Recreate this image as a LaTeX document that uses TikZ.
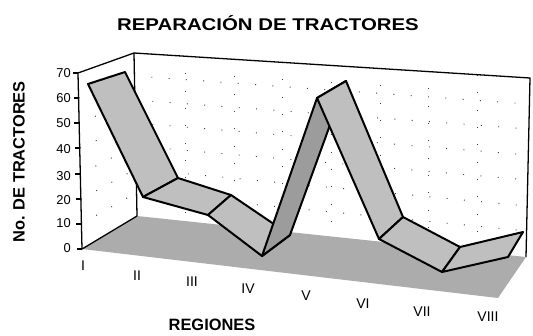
\documentclass[tikz,border=0pt]{standalone}
\usepackage{fontspec}
\setmainfont{Liberation Sans}
\newfontfamily\widesans{Liberation Sans}[FakeStretch=1.2]

\begin{document}
\begin{tikzpicture}[x=0.03cm,y=-0.03cm,
    band/.style={draw=black,line width=1.7pt,line join=round,fill=gray!50},
    underband/.style={draw=black,line width=1.7pt,line join=round,fill=gray!78},
    wall/.style={draw=black,line width=1.1pt},
    gridline/.style={black!75,line width=0.8pt,dash pattern=on 0.8pt off 14pt},
    ticklabel/.style={anchor=east,inner sep=0pt,font=\fontsize{11}{11}\selectfont},
    region/.style={inner sep=0pt,font=\fontsize{12}{12}\selectfont}]

    \useasboundingbox[fill=white] (0,0) rectangle (533,335);

    \draw[gridline] (136,193) -- (527,231);
    \draw[gridline] (136,169) -- (527,206);
    \draw[gridline] (135,146) -- (528,180);
    \draw[gridline] (135,123) -- (528,155);
    \draw[gridline] (135,100) -- (529,129);
    \draw[gridline] (134,76) -- (529,104);
    \draw[gridline] (81,224) -- (136,193);
    \draw[gridline] (81,199) -- (136,169);
    \draw[gridline] (80,174) -- (135,146);
    \draw[gridline] (80,148) -- (135,123);
    \draw[gridline] (79,123) -- (135,100);
    \draw[gridline] (79,98) -- (134,76);
    \draw[gridline] (185,56) -- (185,221);
    \draw[gridline] (234,59) -- (234,226);
    \draw[gridline] (282,62) -- (282,231);
    \draw[gridline] (331,65) -- (331,236);
    \draw[gridline] (380,68) -- (380,241);
    \draw[gridline] (428,71) -- (428,246);
    \draw[gridline] (477,75) -- (477,252);

    \draw[wall] (82,249) -- (78,73) -- (134,53) -- (530,78) -- (526,257);
    \draw[wall] (134,53) -- (137,216);
    \draw[wall] (77,249) -- (82,249) (76,224) -- (81,224) (76,199) -- (81,199)
        (75,174) -- (80,174) (75,148) -- (80,148) (74,123) -- (79,123)
        (74,98) -- (79,98) (73,73) -- (78,73);

    \fill[gray!65] (82,249) -- (137,216) -- (526,257) -- (498,298) -- cycle;
    \draw[wall] (82,249) -- (137,216);

    \coordinate (f1) at (88,84);   \coordinate (b1) at (125,72);
    \coordinate (f2) at (143,197); \coordinate (b2) at (178,178);
    \coordinate (f3) at (208,215); \coordinate (b3) at (231,195);
    \coordinate (f4) at (262,256); \coordinate (b4) at (290,235);
    \coordinate (f5) at (317,98);  \coordinate (b5) at (346,81);
    \coordinate (f6) at (379,239); \coordinate (b6) at (403,217);
    \coordinate (f7) at (442,272); \coordinate (b7) at (460,247);
    \coordinate (f8) at (508,257); \coordinate (b8) at (523,232);

    \draw[band] (f1) -- (f2) -- (b2) -- (b1) -- cycle;
    \draw[band] (f2) -- (f3) -- (b3) -- (b2) -- cycle;
    \draw[band] (f3) -- (f4) -- (b4) -- (b3) -- cycle;
    \draw[underband] (f4) -- (f5) -- (b5) -- (b4) -- cycle;
    \draw[band] (f5) -- (f6) -- (b6) -- (b5) -- cycle;
    \draw[band] (f6) -- (f7) -- (b7) -- (b6) -- cycle;
    \draw[band] (f7) -- (f8) -- (b8) -- (b7) -- cycle;

    \node (title) at (268,23) {\widesans\bfseries\fontsize{14.5}{14.5}\selectfont REPARACIÓN DE TRACTORES};
    \node[rotate=90] (ylabel) at (19,162) {\bfseries\fontsize{14}{14}\selectfont No. DE TRACTORES};
    \node (xlabel) at (212,325) {\bfseries\fontsize{14}{14}\selectfont REGIONES};

    \node[ticklabel] (t0) at (71,248) {0};
    \node[ticklabel] (t10) at (71,223) {10};
    \node[ticklabel] (t20) at (71,200) {20};
    \node[ticklabel] (t30) at (71,176) {30};
    \node[ticklabel] (t40) at (71,149) {40};
    \node[ticklabel] (t50) at (71,123) {50};
    \node[ticklabel] (t60) at (71,98) {60};
    \node[ticklabel] (t70) at (71,73) {70};

    \node[region] (r1) at (83,266) {I};
    \node[region] (r2) at (137,276) {II};
    \node[region] (r3) at (192,282) {III};
    \node[region] (r4) at (248,289) {IV};
    \node[region] (r5) at (306,296) {V};
    \node[region] (r6) at (363,304) {VI};
    \node[region] (r7) at (422,312) {VII};
    \node[region] (r8) at (488,317) {VIII};

\end{tikzpicture}
\end{document}
